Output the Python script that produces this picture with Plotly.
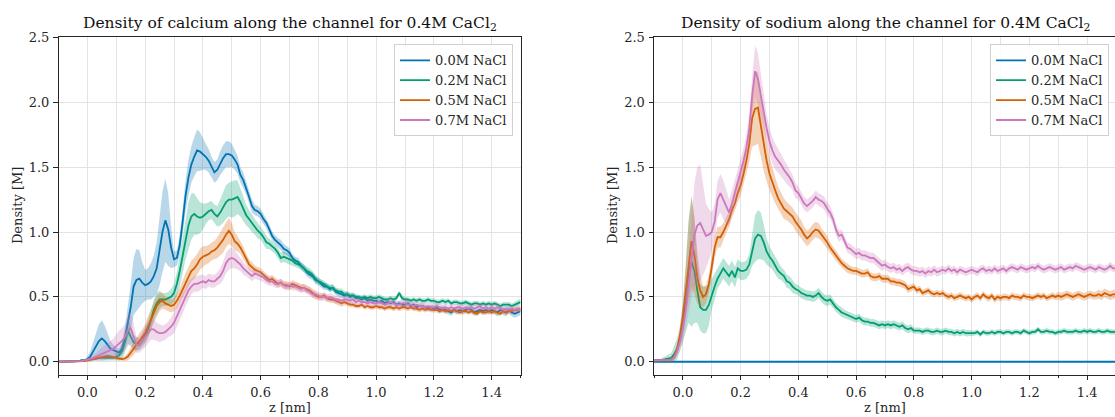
import numpy as np
import plotly.graph_objects as go

# ---------------- data ----------------
z = np.round(np.arange(-0.10, 1.5001, 0.01), 2)  # sampling positions along channel [nm]

labels = ["0.0M NaCl", "0.2M NaCl", "0.5M NaCl", "0.7M NaCl"]
colors = ["#0173b2", "#029e73", "#d55e00", "#cc78bc"]
fills = ["rgba(1,115,178,0.28)", "rgba(2,158,115,0.28)", "rgba(213,94,0,0.28)", "rgba(204,120,188,0.28)"]

# Calcium density (mean) for each NaCl concentration
ca_00 = [0, 0, 0, 0, 0, 0, 0, 0.005, 0.01, 0.01,
         0.02, 0.04, 0.08, 0.12, 0.16, 0.18, 0.16, 0.13, 0.10, 0.09,
         0.08, 0.07, 0.10, 0.18, 0.30, 0.42, 0.58, 0.63, 0.64, 0.61,
         0.59, 0.60, 0.62, 0.66, 0.72, 0.85, 1.00, 1.09, 1.02, 0.88,
         0.79, 0.80, 0.90, 1.08, 1.28, 1.42, 1.52, 1.58, 1.63, 1.62,
         1.60, 1.58, 1.55, 1.50, 1.46, 1.48, 1.53, 1.57, 1.60, 1.60,
         1.59, 1.56, 1.52, 1.44, 1.40, 1.34, 1.27, 1.20, 1.17, 1.16,
         1.14, 1.10, 1.07, 1.02, 0.97, 0.94, 0.92, 0.90, 0.87, 0.86,
         0.84, 0.80, 0.78, 0.77, 0.74, 0.72, 0.69, 0.67, 0.66, 0.63,
         0.62, 0.60, 0.58, 0.58, 0.56, 0.57, 0.54, 0.53, 0.52, 0.51,
         0.52, 0.50, 0.51, 0.49, 0.49, 0.48, 0.49, 0.47, 0.48, 0.47,
         0.47, 0.46, 0.47, 0.45, 0.46, 0.45, 0.46, 0.44, 0.45, 0.44,
         0.44, 0.45, 0.43, 0.44, 0.42, 0.43, 0.43, 0.42, 0.41, 0.42,
         0.41, 0.42, 0.40, 0.41, 0.40, 0.39, 0.38, 0.40, 0.39, 0.40,
         0.39, 0.40, 0.41, 0.40, 0.38, 0.39, 0.40, 0.39, 0.40, 0.39,
         0.40, 0.39, 0.38, 0.40, 0.39, 0.38, 0.40, 0.38, 0.37, 0.38,
         0.39]
ca_00_err = [0, 0, 0, 0, 0, 0, 0, 0.005, 0.01, 0.01,
             0.02, 0.04, 0.07, 0.10, 0.13, 0.14, 0.12, 0.09, 0.06, 0.04,
             0.03, 0.03, 0.05, 0.08, 0.12, 0.18, 0.22, 0.24, 0.22, 0.16,
             0.12, 0.12, 0.14, 0.16, 0.20, 0.26, 0.31, 0.32, 0.28, 0.16,
             0.06, 0.06, 0.08, 0.10, 0.12, 0.14, 0.14, 0.15, 0.16, 0.15,
             0.12, 0.10, 0.09, 0.08, 0.08, 0.08, 0.09, 0.10, 0.10, 0.10,
             0.09, 0.08, 0.07, 0.06, 0.06, 0.05, 0.05, 0.05, 0.04, 0.04,
             0.04, 0.04, 0.04, 0.04, 0.035, 0.035, 0.035, 0.04, 0.04, 0.035,
             0.035, 0.03, 0.03, 0.03, 0.03, 0.03, 0.03, 0.03, 0.03, 0.03,
             0.03, 0.03, 0.025, 0.025, 0.025, 0.025, 0.025, 0.025, 0.025, 0.025,
             0.025, 0.025, 0.025, 0.025, 0.025, 0.025, 0.025, 0.025, 0.025, 0.025,
             0.02, 0.02, 0.02, 0.02, 0.02, 0.02, 0.02, 0.02, 0.02, 0.02,
             0.02, 0.02, 0.02, 0.02, 0.02, 0.02, 0.02, 0.02, 0.02, 0.02,
             0.025, 0.025, 0.025, 0.025, 0.025, 0.025, 0.025, 0.025, 0.025, 0.025,
             0.025, 0.025, 0.025, 0.025, 0.025, 0.025, 0.025, 0.025, 0.025, 0.025,
             0.025, 0.025, 0.03, 0.03, 0.03, 0.03, 0.03, 0.03, 0.03, 0.03,
             0.03]

ca_02 = [0, 0, 0, 0, 0, 0, 0, 0.005, 0.01, 0.01,
         0.015, 0.02, 0.02, 0.025, 0.03, 0.03, 0.03, 0.03, 0.03, 0.03,
         0.04, 0.05, 0.08, 0.15, 0.24, 0.20, 0.15, 0.14, 0.13, 0.16,
         0.20, 0.25, 0.32, 0.40, 0.45, 0.48, 0.48, 0.48, 0.49, 0.50,
         0.53, 0.60, 0.70, 0.82, 0.95, 1.05, 1.12, 1.14, 1.12, 1.11,
         1.12, 1.14, 1.16, 1.17, 1.14, 1.12, 1.15, 1.19, 1.23, 1.25,
         1.25, 1.26, 1.27, 1.23, 1.18, 1.13, 1.10, 1.07, 1.04, 1.01,
         0.99, 0.96, 0.92, 0.91, 0.89, 0.87, 0.84, 0.80, 0.81, 0.80,
         0.79, 0.78, 0.76, 0.75, 0.74, 0.72, 0.70, 0.69, 0.67, 0.64,
         0.62, 0.61, 0.60, 0.58, 0.57, 0.57, 0.55, 0.54, 0.54, 0.52,
         0.52, 0.51, 0.51, 0.50, 0.50, 0.49, 0.50, 0.49, 0.50, 0.49,
         0.49, 0.50, 0.49, 0.48, 0.48, 0.49, 0.48, 0.49, 0.53, 0.49,
         0.48, 0.48, 0.47, 0.48, 0.47, 0.48, 0.47, 0.47, 0.48, 0.47,
         0.47, 0.46, 0.46, 0.47, 0.46, 0.47, 0.45, 0.46, 0.46, 0.45,
         0.45, 0.46, 0.45, 0.44, 0.45, 0.45, 0.44, 0.45, 0.44, 0.45,
         0.44, 0.45, 0.44, 0.43, 0.44, 0.44, 0.44, 0.43, 0.44, 0.45,
         0.46]
ca_02_err = [0, 0, 0, 0, 0, 0, 0, 0.005, 0.005, 0.005,
             0.01, 0.01, 0.01, 0.015, 0.015, 0.015, 0.015, 0.015, 0.02, 0.02,
             0.03, 0.04, 0.06, 0.08, 0.10, 0.08, 0.06, 0.05, 0.04, 0.05,
             0.06, 0.07, 0.07, 0.08, 0.08, 0.07, 0.05, 0.05, 0.05, 0.06,
             0.07, 0.09, 0.12, 0.14, 0.16, 0.18, 0.18, 0.16, 0.14, 0.12,
             0.10, 0.08, 0.07, 0.07, 0.07, 0.08, 0.10, 0.12, 0.13, 0.13,
             0.14, 0.14, 0.13, 0.11, 0.09, 0.08, 0.07, 0.07, 0.06, 0.06,
             0.05, 0.05, 0.05, 0.04, 0.04, 0.04, 0.04, 0.04, 0.04, 0.04,
             0.035, 0.035, 0.03, 0.03, 0.03, 0.03, 0.03, 0.03, 0.03, 0.03,
             0.025, 0.025, 0.025, 0.025, 0.025, 0.025, 0.025, 0.025, 0.025, 0.025,
             0.02, 0.02, 0.02, 0.02, 0.02, 0.02, 0.02, 0.02, 0.02, 0.02,
             0.02, 0.02, 0.02, 0.02, 0.02, 0.02, 0.02, 0.02, 0.02, 0.02,
             0.02, 0.02, 0.02, 0.02, 0.02, 0.02, 0.02, 0.02, 0.02, 0.02,
             0.02, 0.02, 0.02, 0.02, 0.02, 0.02, 0.02, 0.02, 0.02, 0.02,
             0.02, 0.02, 0.02, 0.02, 0.02, 0.02, 0.02, 0.02, 0.02, 0.02,
             0.02, 0.02, 0.02, 0.02, 0.02, 0.02, 0.02, 0.02, 0.025, 0.025,
             0.025]

ca_05 = [0, 0, 0, 0, 0, 0, 0, 0, 0.005, 0.005,
         0.01, 0.015, 0.02, 0.025, 0.03, 0.04, 0.045, 0.045, 0.04, 0.035,
         0.03, 0.025, 0.02, 0.025, 0.04, 0.07, 0.10, 0.13, 0.16, 0.19,
         0.22, 0.27, 0.32, 0.38, 0.43, 0.46, 0.47, 0.45, 0.44, 0.43,
         0.44, 0.47, 0.51, 0.56, 0.61, 0.66, 0.70, 0.72, 0.75, 0.79,
         0.81, 0.82, 0.83, 0.85, 0.86, 0.88, 0.91, 0.94, 0.98, 1.01,
         0.98, 0.93, 0.91, 0.88, 0.84, 0.79, 0.75, 0.73, 0.71, 0.70,
         0.69, 0.67, 0.65, 0.63, 0.64, 0.62, 0.60, 0.61, 0.59, 0.59,
         0.58, 0.60, 0.59, 0.58, 0.57, 0.57, 0.56, 0.55, 0.53, 0.51,
         0.50, 0.50, 0.51, 0.49, 0.48, 0.48, 0.47, 0.46, 0.45, 0.46,
         0.45, 0.44, 0.44, 0.43, 0.43, 0.44, 0.42, 0.43, 0.42, 0.42,
         0.43, 0.42, 0.42, 0.41, 0.42, 0.42, 0.41, 0.42, 0.41, 0.42,
         0.42, 0.41, 0.42, 0.41, 0.41, 0.40, 0.41, 0.40, 0.41, 0.40,
         0.40, 0.40, 0.39, 0.40, 0.39, 0.40, 0.39, 0.40, 0.39, 0.38,
         0.39, 0.39, 0.38, 0.39, 0.38, 0.37, 0.39, 0.38, 0.38, 0.39,
         0.38, 0.39, 0.38, 0.37, 0.39, 0.38, 0.39, 0.39, 0.40, 0.40,
         0.41]
ca_05_err = [0, 0, 0, 0, 0, 0, 0, 0, 0.005, 0.005,
             0.005, 0.005, 0.01, 0.01, 0.01, 0.01, 0.01, 0.01, 0.01, 0.01,
             0.015, 0.015, 0.015, 0.02, 0.03, 0.04, 0.05, 0.05, 0.06, 0.06,
             0.07, 0.08, 0.08, 0.08, 0.08, 0.07, 0.06, 0.05, 0.05, 0.05,
             0.05, 0.06, 0.06, 0.07, 0.07, 0.08, 0.08, 0.08, 0.08, 0.08,
             0.08, 0.07, 0.07, 0.07, 0.07, 0.08, 0.09, 0.10, 0.10, 0.10,
             0.09, 0.07, 0.06, 0.05, 0.05, 0.04, 0.04, 0.04, 0.03, 0.03,
             0.03, 0.03, 0.03, 0.03, 0.03, 0.03, 0.03, 0.03, 0.03, 0.03,
             0.03, 0.03, 0.03, 0.03, 0.03, 0.03, 0.03, 0.03, 0.03, 0.03,
             0.025, 0.025, 0.025, 0.025, 0.025, 0.025, 0.025, 0.025, 0.025, 0.025,
             0.02, 0.02, 0.02, 0.02, 0.02, 0.02, 0.02, 0.02, 0.02, 0.02,
             0.02, 0.02, 0.02, 0.02, 0.02, 0.02, 0.02, 0.02, 0.02, 0.02,
             0.02, 0.02, 0.02, 0.02, 0.02, 0.02, 0.02, 0.02, 0.02, 0.02,
             0.02, 0.02, 0.02, 0.02, 0.02, 0.02, 0.02, 0.02, 0.02, 0.02,
             0.02, 0.02, 0.02, 0.02, 0.02, 0.02, 0.02, 0.02, 0.02, 0.02,
             0.02, 0.02, 0.02, 0.02, 0.02, 0.02, 0.02, 0.02, 0.02, 0.02,
             0.02]

ca_07 = [0, 0, 0, 0, 0, 0, 0, 0.005, 0.005, 0.01,
         0.015, 0.02, 0.03, 0.04, 0.05, 0.06, 0.07, 0.08, 0.09, 0.10,
         0.12, 0.14, 0.16, 0.19, 0.24, 0.26, 0.20, 0.13, 0.13, 0.16,
         0.19, 0.22, 0.25, 0.25, 0.23, 0.22, 0.22, 0.23, 0.25, 0.27,
         0.30, 0.35, 0.40, 0.45, 0.50, 0.55, 0.58, 0.60, 0.60, 0.61,
         0.62, 0.61, 0.63, 0.62, 0.62, 0.64, 0.66, 0.70, 0.76, 0.79,
         0.80, 0.79, 0.77, 0.75, 0.72, 0.70, 0.68, 0.66, 0.68, 0.67,
         0.66, 0.65, 0.63, 0.62, 0.62, 0.60, 0.60, 0.61, 0.59, 0.58,
         0.59, 0.58, 0.58, 0.57, 0.56, 0.57, 0.55, 0.54, 0.52, 0.52,
         0.51, 0.50, 0.50, 0.49, 0.50, 0.49, 0.48, 0.48, 0.47, 0.48,
         0.48, 0.47, 0.48, 0.46, 0.47, 0.46, 0.46, 0.45, 0.46, 0.45,
         0.45, 0.46, 0.45, 0.44, 0.45, 0.46, 0.45, 0.44, 0.44, 0.45,
         0.45, 0.44, 0.44, 0.43, 0.44, 0.43, 0.43, 0.42, 0.43, 0.42,
         0.42, 0.43, 0.42, 0.41, 0.42, 0.41, 0.42, 0.41, 0.42, 0.42,
         0.41, 0.42, 0.41, 0.42, 0.41, 0.42, 0.43, 0.41, 0.42, 0.41,
         0.42, 0.41, 0.42, 0.41, 0.40, 0.41, 0.40, 0.41, 0.40, 0.41,
         0.40]
ca_07_err = [0, 0, 0, 0, 0, 0, 0, 0.005, 0.005, 0.005,
             0.01, 0.015, 0.02, 0.03, 0.04, 0.05, 0.06, 0.06, 0.07, 0.08,
             0.09, 0.10, 0.10, 0.10, 0.12, 0.12, 0.10, 0.06, 0.06, 0.07,
             0.08, 0.08, 0.08, 0.08, 0.07, 0.07, 0.06, 0.06, 0.06, 0.07,
             0.08, 0.08, 0.08, 0.08, 0.07, 0.07, 0.06, 0.06, 0.06, 0.06,
             0.05, 0.05, 0.05, 0.05, 0.05, 0.05, 0.06, 0.07, 0.08, 0.08,
             0.08, 0.07, 0.06, 0.05, 0.05, 0.04, 0.04, 0.04, 0.04, 0.04,
             0.035, 0.035, 0.035, 0.035, 0.035, 0.03, 0.03, 0.03, 0.03, 0.03,
             0.03, 0.03, 0.03, 0.03, 0.03, 0.03, 0.03, 0.03, 0.03, 0.03,
             0.03, 0.03, 0.03, 0.03, 0.03, 0.03, 0.03, 0.03, 0.03, 0.03,
             0.03, 0.03, 0.03, 0.03, 0.03, 0.03, 0.03, 0.03, 0.03, 0.03,
             0.03, 0.03, 0.03, 0.03, 0.03, 0.03, 0.03, 0.03, 0.03, 0.03,
             0.03, 0.03, 0.03, 0.03, 0.03, 0.03, 0.03, 0.03, 0.03, 0.03,
             0.03, 0.03, 0.03, 0.03, 0.03, 0.03, 0.03, 0.03, 0.03, 0.03,
             0.025, 0.025, 0.025, 0.025, 0.025, 0.025, 0.025, 0.025, 0.025, 0.025,
             0.025, 0.025, 0.025, 0.025, 0.025, 0.025, 0.025, 0.025, 0.025, 0.025,
             0.025]

# Sodium density (mean) for each NaCl concentration
na_00 = [0.0, 0.0, 0.0, 0.0, 0.0, 0.0, 0.0, 0.0, 0.0, 0.0,
         0.0, 0.0, 0.0, 0.0, 0.0, 0.0, 0.0, 0.0, 0.0, 0.0,
         0.0, 0.0, 0.0, 0.0, 0.0, 0.0, 0.0, 0.0, 0.0, 0.0,
         0.0, 0.0, 0.0, 0.0, 0.0, 0.0, 0.0, 0.0, 0.0, 0.0,
         0.0, 0.0, 0.0, 0.0, 0.0, 0.0, 0.0, 0.0, 0.0, 0.0,
         0.0, 0.0, 0.0, 0.0, 0.0, 0.0, 0.0, 0.0, 0.0, 0.0,
         0.0, 0.0, 0.0, 0.0, 0.0, 0.0, 0.0, 0.0, 0.0, 0.0,
         0.0, 0.0, 0.0, 0.0, 0.0, 0.0, 0.0, 0.0, 0.0, 0.0,
         0.0, 0.0, 0.0, 0.0, 0.0, 0.0, 0.0, 0.0, 0.0, 0.0,
         0.0, 0.0, 0.0, 0.0, 0.0, 0.0, 0.0, 0.0, 0.0, 0.0,
         0.0, 0.0, 0.0, 0.0, 0.0, 0.0, 0.0, 0.0, 0.0, 0.0,
         0.0, 0.0, 0.0, 0.0, 0.0, 0.0, 0.0, 0.0, 0.0, 0.0,
         0.0, 0.0, 0.0, 0.0, 0.0, 0.0, 0.0, 0.0, 0.0, 0.0,
         0.0, 0.0, 0.0, 0.0, 0.0, 0.0, 0.0, 0.0, 0.0, 0.0,
         0.0, 0.0, 0.0, 0.0, 0.0, 0.0, 0.0, 0.0, 0.0, 0.0,
         0.0, 0.0, 0.0, 0.0, 0.0, 0.0, 0.0, 0.0, 0.0, 0.0,
         0.0]
na_00_err = list(na_00)

na_02 = [0.01, 0.01, 0.01, 0.015, 0.02, 0.025, 0.03, 0.06, 0.10, 0.18,
         0.30, 0.48, 0.70, 0.77, 0.70, 0.55, 0.42, 0.40, 0.40, 0.44,
         0.52, 0.58, 0.64, 0.68, 0.72, 0.69, 0.66, 0.70, 0.65, 0.72,
         0.70, 0.70, 0.71, 0.75, 0.86, 0.95, 0.98, 0.97, 0.92, 0.85,
         0.81, 0.78, 0.74, 0.70, 0.68, 0.66, 0.62, 0.61, 0.58, 0.56,
         0.55, 0.53, 0.52, 0.51, 0.51, 0.50, 0.51, 0.53, 0.50, 0.48,
         0.47, 0.48, 0.45, 0.42, 0.40, 0.38, 0.37, 0.36, 0.35, 0.34,
         0.33, 0.34, 0.32, 0.31, 0.31, 0.30, 0.30, 0.29, 0.28, 0.29,
         0.28, 0.29, 0.28, 0.29, 0.28, 0.27, 0.28, 0.26, 0.25, 0.26,
         0.24, 0.24, 0.24, 0.23, 0.24, 0.24, 0.23, 0.23, 0.24, 0.23,
         0.23, 0.24, 0.23, 0.23, 0.22, 0.23, 0.22, 0.23, 0.22, 0.22,
         0.22, 0.22, 0.23, 0.21, 0.23, 0.22, 0.22, 0.23, 0.22, 0.23,
         0.23, 0.22, 0.23, 0.23, 0.22, 0.23, 0.23, 0.22, 0.24, 0.23,
         0.22, 0.23, 0.23, 0.25, 0.23, 0.23, 0.24, 0.23, 0.23, 0.22,
         0.23, 0.23, 0.24, 0.23, 0.23, 0.23, 0.24, 0.23, 0.23, 0.24,
         0.23, 0.24, 0.23, 0.23, 0.24, 0.23, 0.23, 0.24, 0.23, 0.23,
         0.23]
na_02_err = [0.01, 0.01, 0.01, 0.015, 0.02, 0.03, 0.04, 0.06, 0.08, 0.10,
             0.15, 0.25, 0.40, 0.50, 0.40, 0.25, 0.18, 0.18, 0.18, 0.16,
             0.12, 0.10, 0.08, 0.08, 0.08, 0.08, 0.08, 0.08, 0.08, 0.07,
             0.07, 0.07, 0.07, 0.08, 0.12, 0.18, 0.19, 0.18, 0.14, 0.10,
             0.08, 0.07, 0.06, 0.06, 0.05, 0.05, 0.05, 0.05, 0.05, 0.04,
             0.04, 0.04, 0.04, 0.04, 0.04, 0.04, 0.04, 0.04, 0.04, 0.04,
             0.04, 0.04, 0.035, 0.035, 0.035, 0.035, 0.03, 0.03, 0.03, 0.03,
             0.03, 0.03, 0.03, 0.03, 0.03, 0.03, 0.03, 0.03, 0.03, 0.03,
             0.03, 0.03, 0.03, 0.03, 0.03, 0.03, 0.03, 0.03, 0.03, 0.03,
             0.025, 0.025, 0.025, 0.025, 0.025, 0.025, 0.025, 0.025, 0.025, 0.025,
             0.025, 0.025, 0.025, 0.025, 0.025, 0.025, 0.025, 0.025, 0.025, 0.025,
             0.02, 0.02, 0.02, 0.02, 0.02, 0.02, 0.02, 0.02, 0.02, 0.02,
             0.02, 0.02, 0.02, 0.02, 0.02, 0.02, 0.02, 0.02, 0.02, 0.02,
             0.02, 0.02, 0.02, 0.02, 0.02, 0.02, 0.02, 0.02, 0.02, 0.02,
             0.02, 0.02, 0.02, 0.02, 0.02, 0.02, 0.02, 0.02, 0.02, 0.02,
             0.02, 0.02, 0.02, 0.02, 0.02, 0.02, 0.02, 0.02, 0.02, 0.02,
             0.02]

na_05 = [0.01, 0.01, 0.01, 0.01, 0.01, 0.01, 0.02, 0.04, 0.10, 0.20,
         0.35, 0.55, 0.78, 0.93, 0.82, 0.65, 0.55, 0.50, 0.52, 0.60,
         0.73, 0.88, 0.96, 0.96, 1.00, 1.05, 1.10, 1.17, 1.22, 1.30,
         1.36, 1.45, 1.55, 1.68, 1.88, 1.95, 1.96, 1.82, 1.67, 1.55,
         1.45, 1.38, 1.32, 1.26, 1.22, 1.18, 1.16, 1.14, 1.12, 1.08,
         1.05, 1.02, 0.98, 0.95, 0.97, 1.00, 1.02, 1.01, 0.98, 0.95,
         0.92, 0.88, 0.85, 0.82, 0.79, 0.76, 0.74, 0.72, 0.71, 0.70,
         0.70, 0.69, 0.68, 0.68, 0.69, 0.66, 0.65, 0.65, 0.66, 0.64,
         0.64, 0.64, 0.62, 0.62, 0.61, 0.61, 0.60, 0.59, 0.56, 0.57,
         0.58, 0.55, 0.56, 0.53, 0.54, 0.55, 0.53, 0.52, 0.53, 0.52,
         0.53, 0.51, 0.50, 0.51, 0.49, 0.50, 0.51, 0.50, 0.49, 0.50,
         0.48, 0.50, 0.51, 0.49, 0.52, 0.50, 0.49, 0.51, 0.48, 0.50,
         0.49, 0.50, 0.50, 0.49, 0.51, 0.50, 0.50, 0.49, 0.51, 0.50,
         0.50, 0.49, 0.50, 0.51, 0.50, 0.51, 0.49, 0.50, 0.51, 0.50,
         0.51, 0.50, 0.51, 0.52, 0.51, 0.50, 0.51, 0.52, 0.51, 0.50,
         0.51, 0.52, 0.51, 0.51, 0.52, 0.51, 0.53, 0.52, 0.51, 0.52,
         0.52]
na_05_err = [0.005, 0.005, 0.005, 0.005, 0.005, 0.01, 0.01, 0.02, 0.04, 0.06,
             0.10, 0.18, 0.30, 0.35, 0.30, 0.20, 0.12, 0.08, 0.07, 0.07,
             0.08, 0.08, 0.08, 0.08, 0.07, 0.06, 0.06, 0.06, 0.06, 0.07,
             0.08, 0.09, 0.10, 0.14, 0.22, 0.28, 0.28, 0.24, 0.20, 0.16,
             0.13, 0.11, 0.10, 0.09, 0.08, 0.08, 0.07, 0.07, 0.07, 0.07,
             0.07, 0.07, 0.06, 0.06, 0.06, 0.06, 0.06, 0.06, 0.05, 0.05,
             0.05, 0.04, 0.04, 0.04, 0.04, 0.035, 0.035, 0.035, 0.03, 0.03,
             0.03, 0.03, 0.03, 0.03, 0.03, 0.03, 0.03, 0.03, 0.03, 0.03,
             0.03, 0.03, 0.03, 0.03, 0.03, 0.03, 0.03, 0.03, 0.03, 0.03,
             0.025, 0.025, 0.025, 0.025, 0.025, 0.025, 0.025, 0.025, 0.025, 0.025,
             0.025, 0.025, 0.025, 0.025, 0.025, 0.025, 0.025, 0.025, 0.025, 0.025,
             0.025, 0.025, 0.025, 0.025, 0.025, 0.025, 0.025, 0.025, 0.025, 0.025,
             0.025, 0.025, 0.025, 0.025, 0.025, 0.025, 0.025, 0.025, 0.025, 0.025,
             0.025, 0.025, 0.025, 0.025, 0.025, 0.025, 0.025, 0.025, 0.025, 0.025,
             0.03, 0.03, 0.03, 0.03, 0.03, 0.03, 0.03, 0.03, 0.03, 0.03,
             0.03, 0.03, 0.03, 0.03, 0.035, 0.035, 0.035, 0.035, 0.035, 0.035,
             0.035]

na_07 = [0.01, 0.01, 0.01, 0.01, 0.01, 0.01, 0.015, 0.03, 0.08, 0.15,
         0.25, 0.40, 0.60, 0.80, 0.98, 1.05, 1.07, 1.02, 0.97, 0.98,
         1.00, 1.08, 1.25, 1.30, 1.25, 1.20, 1.15, 1.22, 1.30, 1.38,
         1.45, 1.55, 1.65, 1.80, 2.05, 2.24, 2.18, 2.05, 1.92, 1.80,
         1.70, 1.63, 1.58, 1.55, 1.52, 1.48, 1.45, 1.42, 1.38, 1.32,
         1.30, 1.26, 1.22, 1.20, 1.22, 1.24, 1.27, 1.25, 1.24, 1.22,
         1.18, 1.15, 1.10, 1.02, 0.97, 0.98, 0.93, 0.88, 0.87, 0.85,
         0.83, 0.84, 0.82, 0.82, 0.81, 0.80, 0.80, 0.78, 0.76, 0.74,
         0.75, 0.73, 0.72, 0.73, 0.71, 0.72, 0.70, 0.72, 0.73, 0.71,
         0.70, 0.70, 0.69, 0.70, 0.68, 0.70, 0.69, 0.71, 0.69, 0.70,
         0.71, 0.70, 0.72, 0.70, 0.71, 0.69, 0.71, 0.70, 0.69, 0.70,
         0.71, 0.70, 0.69, 0.71, 0.72, 0.70, 0.71, 0.70, 0.72, 0.70,
         0.71, 0.72, 0.70, 0.72, 0.73, 0.72, 0.71, 0.73, 0.72, 0.71,
         0.72, 0.73, 0.72, 0.74, 0.72, 0.71, 0.72, 0.73, 0.72, 0.71,
         0.72, 0.73, 0.71, 0.72, 0.73, 0.72, 0.74, 0.73, 0.72, 0.71,
         0.72, 0.73, 0.72, 0.71, 0.73, 0.72, 0.71, 0.72, 0.74, 0.72,
         0.72]
na_07_err = [0.005, 0.005, 0.005, 0.005, 0.005, 0.01, 0.01, 0.02, 0.04, 0.06,
             0.10, 0.15, 0.22, 0.30, 0.40, 0.45, 0.45, 0.35, 0.25, 0.20,
             0.15, 0.14, 0.14, 0.15, 0.15, 0.13, 0.10, 0.10, 0.10, 0.10,
             0.10, 0.10, 0.10, 0.12, 0.15, 0.20, 0.20, 0.16, 0.13, 0.11,
             0.10, 0.10, 0.10, 0.09, 0.09, 0.08, 0.08, 0.07, 0.06, 0.06,
             0.05, 0.05, 0.05, 0.05, 0.05, 0.05, 0.05, 0.05, 0.05, 0.05,
             0.05, 0.05, 0.045, 0.045, 0.045, 0.04, 0.04, 0.04, 0.04, 0.04,
             0.04, 0.04, 0.04, 0.04, 0.04, 0.04, 0.04, 0.04, 0.04, 0.04,
             0.035, 0.035, 0.035, 0.035, 0.035, 0.035, 0.035, 0.035, 0.035, 0.035,
             0.035, 0.035, 0.035, 0.035, 0.035, 0.035, 0.035, 0.035, 0.035, 0.035,
             0.03, 0.03, 0.03, 0.03, 0.03, 0.03, 0.03, 0.03, 0.03, 0.03,
             0.03, 0.03, 0.03, 0.03, 0.03, 0.03, 0.03, 0.03, 0.03, 0.03,
             0.03, 0.03, 0.03, 0.03, 0.03, 0.03, 0.03, 0.03, 0.03, 0.03,
             0.03, 0.03, 0.03, 0.03, 0.03, 0.03, 0.03, 0.03, 0.03, 0.03,
             0.03, 0.03, 0.03, 0.03, 0.03, 0.03, 0.03, 0.03, 0.03, 0.03,
             0.03, 0.03, 0.03, 0.03, 0.03, 0.03, 0.03, 0.03, 0.03, 0.03,
             0.03]

titles = ["Density of calcium along the channel for 0.4M CaCl<sub>2</sub>",
          "Density of sodium along the channel for 0.4M CaCl<sub>2</sub>"]
x_title = "z [nm]"
y_title = "Density [M]"

calcium = [(ca_00, ca_00_err), (ca_02, ca_02_err), (ca_05, ca_05_err), (ca_07, ca_07_err)]
sodium = [(na_00, na_00_err), (na_02, na_02_err), (na_05, na_05_err), (na_07, na_07_err)]

# ---------------- figure ----------------
W, H = 1115, 417
FONT = "DejaVu Serif"
fig = go.Figure()


def add_panel(series, xref, yref, legend_name):
    for i, (m, e) in enumerate(series):
        m = np.asarray(m, dtype=float)
        e = np.asarray(e, dtype=float)
        if np.any(e > 0):
            fig.add_trace(go.Scatter(
                x=np.concatenate([z, z[::-1]]),
                y=np.concatenate([m + e, (m - e)[::-1]]),
                fill="toself", fillcolor=fills[i], line=dict(width=0),
                mode="lines", showlegend=False, hoverinfo="skip",
                xaxis=xref, yaxis=yref))
        fig.add_trace(go.Scatter(
            x=z, y=m, mode="lines", name=labels[i],
            line=dict(color=colors[i], width=1.8),
            xaxis=xref, yaxis=yref, legend=legend_name))


add_panel(calcium, "x", "y", "legend")
add_panel(sodium, "x2", "y2", "legend2")

# pixel geometry
L1, R1 = 58.5, 520.5
L2, R2 = 654.0, 1115.0
TOP, BOT = 31.0, 374.0
px_per_nm = (R1 - L1) / 1.6
x2_end = -0.1 + (R2 - L2) / px_per_nm

axis_common = dict(
    showline=True, linecolor="#262626", linewidth=1,
    ticks="outside", ticklen=4.5, tickwidth=1, tickcolor="#262626",
    showgrid=True, gridcolor="#e3e3e3", gridwidth=1, zeroline=False,
    tickfont=dict(family=FONT, size=13, color="#262626"),
    tickformat=".1f",
)
xminor = dict(dtick=0.1, tick0=0, ticks="outside", ticklen=2.5, tickwidth=1,
              tickcolor="#262626", showgrid=True, gridcolor="#e3e3e3", gridwidth=1)

ydom = [1 - BOT / H, 1 - TOP / H]
fig.update_layout(
    width=W, height=H,
    margin=dict(l=0, r=0, t=0, b=0),
    paper_bgcolor="white", plot_bgcolor="white",
    font=dict(family=FONT, size=13, color="#262626"),
    xaxis=dict(domain=[L1 / W, R1 / W], range=[-0.1, 1.5], dtick=0.2, tick0=0,
               mirror=True, anchor="y", minor=xminor, ticklabelstandoff=1, **axis_common),
    yaxis=dict(domain=ydom, range=[-0.1, 2.5], dtick=0.5, tick0=0,
               mirror=True, anchor="x", ticklabelstandoff=1, **axis_common),
    xaxis2=dict(domain=[L2 / W, R2 / W], range=[-0.1, x2_end], dtick=0.2, tick0=0,
                mirror=True, anchor="y2", minor=xminor, ticklabelstandoff=1, **axis_common),
    yaxis2=dict(domain=ydom, range=[-0.1, 2.5], dtick=0.5, tick0=0,
                mirror=False, anchor="x2", ticklabelstandoff=1, **axis_common),
    legend=dict(x=513 / W, y=1 - 38 / H, xanchor="right", yanchor="top",
                bgcolor="rgba(255,255,255,0.85)", bordercolor="#d0d0d0", borderwidth=1,
                font=dict(family=FONT, size=13, color="#262626"),
                itemwidth=30, tracegroupgap=0),
    legend2=dict(x=1109 / W, y=1 - 38 / H, xanchor="right", yanchor="top",
                 bgcolor="rgba(255,255,255,0.85)", bordercolor="#d0d0d0", borderwidth=1,
                 font=dict(family=FONT, size=13, color="#262626"),
                 itemwidth=30, tracegroupgap=0),
    showlegend=True,
)

# titles and axis labels
centers = [(L1 + R1) / 2, (L2 + L2 + 1.6 * px_per_nm) / 2]
ylab_x = [17, 612]
for k in range(2):
    fig.add_annotation(text=titles[k], x=centers[k] / W, y=1 - 17 / H,
                       xref="paper", yref="paper", showarrow=False,
                       xanchor="center", yanchor="middle",
                       font=dict(family=FONT, size=15.5, color="#111111"))
    fig.add_annotation(text=x_title, x=centers[k] / W, y=1 - 407 / H,
                       xref="paper", yref="paper", showarrow=False,
                       xanchor="center", yanchor="middle",
                       font=dict(family=FONT, size=13, color="#262626"))
    fig.add_annotation(text=y_title, x=ylab_x[k] / W, y=1 - ((TOP + BOT) / 2) / H,
                       xref="paper", yref="paper", showarrow=False, textangle=-90,
                       xanchor="center", yanchor="middle",
                       font=dict(family=FONT, size=13, color="#262626"))

fig.write_html("out.html")
